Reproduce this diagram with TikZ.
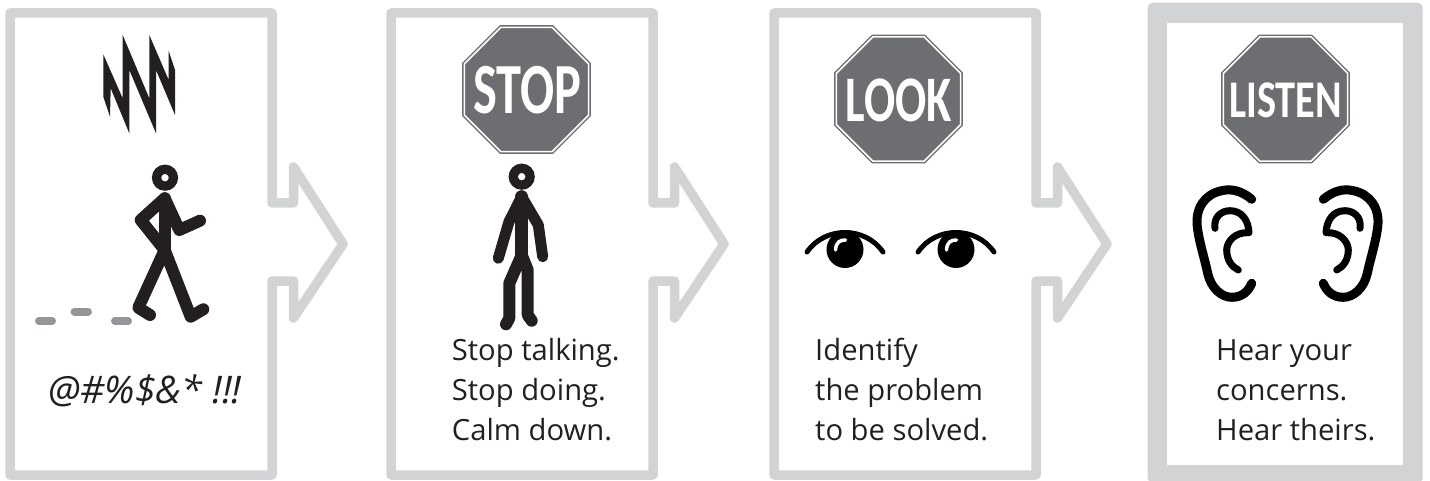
\documentclass[tikz,border=0pt]{standalone}
\usepackage{fontspec}
\setmainfont{Open Sans}
\newfontfamily\signfont{Carlito}
\definecolor{framegray}{HTML}{D1D3D4}
\definecolor{signgray}{HTML}{6D6E71}
\definecolor{trailgray}{HTML}{939598}
\definecolor{inkblack}{HTML}{231F20}
\newcommand{\signword}[3]{\scalebox{#1}[1]{\fontsize{#2}{#2}\selectfont\signfont\bfseries #3}}
\newcommand{\signplate}[2]{\draw[plate, shift={(#1,#2)}] (22.5:67.2) -- (67.5:67.2) -- (112.5:67.2) -- (157.5:67.2) -- (202.5:67.2) -- (247.5:67.2) -- (292.5:67.2) -- (337.5:67.2) -- cycle;}

\begin{document}
\begin{tikzpicture}[x=1pt, y=-1pt,
  frame/.style={draw=framegray, line width=9.5pt, line join=round},
  plate/.style={draw=signgray, fill=signgray, double=white, double distance=1.5pt, line width=1.5pt},
  signtext/.style={inner sep=0pt, text=white},
  caption/.style={align=left, anchor=west, inner sep=0pt, text=inkblack, font=\fontsize{29.2}{40}\selectfont},
  limb/.style={draw=inkblack, line width=12pt, line cap=round, line join=round},
  lid/.style={draw=black, line width=5pt, line cap=round},
  ear/.style={draw=black, line cap=round, line join=round}]
\useasboundingbox (0,0) rectangle (1430,481);
% panels with the arrow on the right
\foreach \dx in {0,381,764}
  \draw[frame, shift={(\dx,0)}] (10,13) -- (272,13) -- (272,203) -- (293.5,203) -- (293.5,167) -- (343,244) -- (293.5,318) -- (293.5,281) -- (272,281) -- (272,475) -- (10,475) -- cycle;
\fill[framegray, rounded corners=5pt] (1147.7,2.7) rectangle (1422.7,483);
\fill[white] (1167.3,22.7) rectangle (1403,465);
% signs
\signplate{526.5}{89.5}
\signplate{898.5}{99}
\signplate{1285.5}{99}
\node[signtext] (stop) at (527,90) {\signword{0.7}{72}{STOP}};
\node[signtext] (look) at (898.5,100) {\signword{0.71}{65}{LOOK}};
\node[signtext] (listen) at (1285.5,100) {\signword{0.76}{53}{LISTEN}};
% angry marks
\fill[inkblack] (103.3,54.3) -- (103.3,96.7) -- (110,116.7) -- (110.7,88.3) -- (129.3,133.3) -- (129.3,70) -- (156,133.3) -- (156,70) -- (175,115) -- (175,70) -- (168.7,51) -- (168.7,80) -- (149.3,35) -- (149.3,98.3) -- (122.7,35) -- (122.7,98.3) -- cycle;
% walking man
\draw[draw=inkblack, line width=9.3pt] (165,177.7) circle (8.4pt);
\draw[limb] (163.3,248.3) -- (140.7,220) -- (164.7,198.3) -- (179.3,230) -- (200,220.7);
\draw[limb] (164.7,198.3) -- (164.7,250);
\draw[limb] (150,315) -- (138.3,307.7) -- (164.7,250) -- (190.7,316.7) -- (203.3,309.3);
\foreach \xa/\xb/\yy in {39/52/321, 74.5/88/311.5, 115/128/321}
  \draw[draw=trailgray, line width=8pt, line cap=round] (\xa,\yy) -- (\xb,\yy);
\node[caption, font=\fontsize{38}{40}\selectfont\itshape] (noise) at (48,391) {@\#\%\$\&* !!!};
% standing man
\draw[draw=inkblack, line width=9.3pt] (521.7,176.7) circle (8.4pt);
\draw[limb, line width=11pt] (498.3,258.3) -- (509,221.7) -- (521.7,196.7) -- (538.3,225) -- (542.7,256.7);
\draw[limb, line width=13pt] (521.7,196.7) -- (521.7,255);
\draw[limb] (506,324.3) -- (509.3,318.3) -- (509.3,283.3) -- (521.7,255) -- (527.7,270) -- (527.7,315) -- (531.7,320.7);
\node[caption] (stoptext) at (451.7,390) {Stop talking.\\Stop doing.\\Calm down.};
% eyes
\foreach \dx in {0,111} {
  \fill[black] (845+\dx,249.5) circle (18.5pt);
  \draw[lid] (807+\dx,252) .. controls (825+\dx,226) and (865+\dx,226) .. (883+\dx,252);
  \draw[draw=white, line width=3.5pt, line cap=round] (835.5+\dx,250) .. controls (836+\dx,242) and (840+\dx,240) .. (845.5+\dx,240);
}
\node[caption] (looktext) at (815,390) {Identify\\the problem\\to be solved.};
% ears, the second one mirrored
\foreach \sx in {1,-1} {
  \begin{scope}[shift={(1287.5,0)}, xscale=\sx]
    \draw[ear, line width=9pt] (-35.8,199.3) .. controls (-45.8,191) and (-55.8,188.3) .. (-65.8,190.7) .. controls (-82.5,194) and (-92.5,208.3) .. (-90.2,226.7) .. controls (-88.5,241.7) and (-82.5,260) .. (-79.8,273.3) .. controls (-76.5,288.3) and (-65.8,297.3) .. (-55.8,297.3) .. controls (-45.8,297.3) and (-39.2,291.7) .. (-35.8,283.3);
    \draw[ear, line width=7pt] (-72.5,228.3) .. controls (-74.2,216.7) and (-65.8,210.7) .. (-57.5,210.7) .. controls (-45.8,210.7) and (-39.2,220) .. (-38.5,232.7) .. controls (-52.5,231.7) and (-60.8,241.7) .. (-60.8,250) .. controls (-60.8,260) and (-55.8,266.7) .. (-49.2,270);
  \end{scope}
}
\node[caption] (listentext) at (1216,390) {Hear your\\concerns.\\Hear theirs.};
\end{tikzpicture}
\end{document}
